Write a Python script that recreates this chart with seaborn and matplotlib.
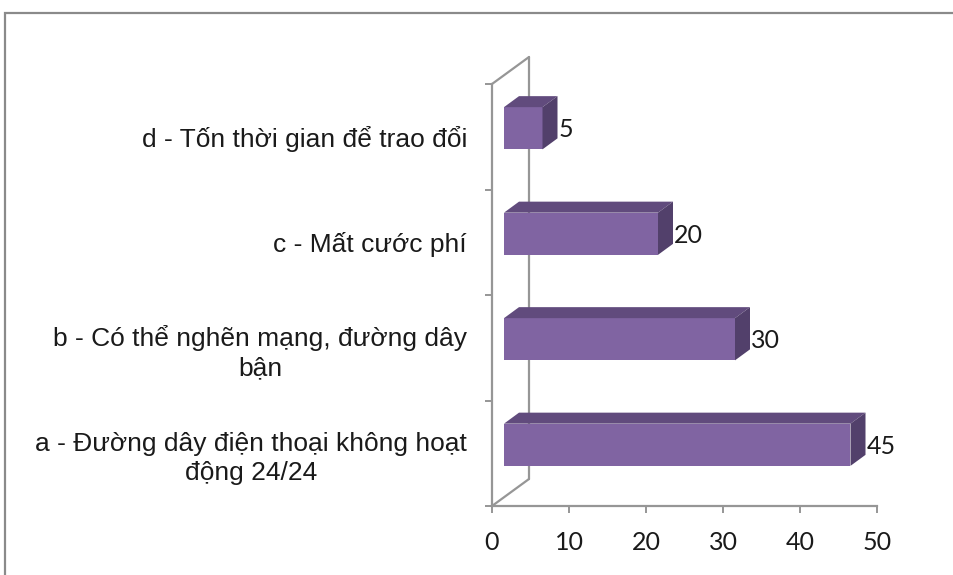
import numpy as np
import pandas as pd
import matplotlib
matplotlib.use("Agg")
import matplotlib.pyplot as plt
import seaborn as sns
from matplotlib.patches import Polygon, Rectangle
from matplotlib.lines import Line2D

# ---- data ----
categories = [
    "d - Tốn thời gian để trao đổi",
    "c - Mất cước phí",
    "b - Có thể nghẽn mạng, đường dây\nbận",
    "a - Đường dây điện thoại không hoạt\nđộng 24/24",
]
values = [5, 20, 30, 45]
x_ticks = [0, 10, 20, 30, 40, 50]

# ---- style ----
FRONT = "#8064A2"
TOP = "#614B7D"
SIDE = "#52406B"
WALL = "#969696"
LABEL_FONT = ["Liberation Sans", "DejaVu Sans"]
NUM_FONT = ["Lato", "DejaVu Sans"]

sns.set_theme(style="white")
W, H, DPI = 954, 575, 100
fig = plt.figure(figsize=(W / DPI, H / DPI), dpi=DPI)
ax = fig.add_axes([492 / W, (H - 506) / H, 385 / W, 422 / H])

df = pd.DataFrame({"cat": categories, "val": values})
sns.barplot(data=df, x="val", y="cat", orient="h", color=FRONT,
            saturation=1, width=0.4, ax=ax, zorder=3)
ax.set_xlim(0, 50)
ax.set_ylim(len(categories) - 0.5, -0.5)

# pixel -> data conversion for the oblique depth offsets
bbox = ax.get_window_extent()
px_x = 50 / bbox.width                       # data units per pixel (x)
px_y = len(categories) / bbox.height         # data units per pixel (y, inverted axis)

def shift(dx_px, dy_px):
    # dy_px positive = upward on screen
    return dx_px * px_x, -dy_px * px_y

front_dx, front_dy = shift(12, 8.5)
depth_dx, depth_dy = shift(15, 11)
wall_dx, wall_dy = shift(37, 27)

# back wall / floor outline
y_top, y_bot = -0.5, len(categories) - 0.5
wall_kw = dict(color=WALL, lw=1.6, clip_on=False, zorder=1)
ax.add_line(Line2D([0, wall_dx], [y_top, y_top + wall_dy], **wall_kw))
ax.add_line(Line2D([0, wall_dx], [y_bot, y_bot + wall_dy], **wall_kw))
ax.add_line(Line2D([wall_dx, wall_dx], [y_top + wall_dy, y_bot + wall_dy], **wall_kw))

# turn flat bars into oblique prisms
for p in ax.patches:
    x0, y0 = p.get_x(), p.get_y()
    w, h = p.get_width(), p.get_height()
    x0 += front_dx
    y0 += front_dy
    p.set_x(x0)
    p.set_y(y0)
    p.set_edgecolor("none")
    p.set_clip_on(False)
    y_up = y0              # upper edge on screen (inverted axis)
    y_dn = y0 + h
    x1 = x0 + w
    top = Polygon([(x0, y_up), (x1, y_up), (x1 + depth_dx, y_up + depth_dy),
                   (x0 + depth_dx, y_up + depth_dy)], closed=True,
                  facecolor=TOP, edgecolor="none", zorder=3, clip_on=False)
    side = Polygon([(x1, y_up), (x1 + depth_dx, y_up + depth_dy),
                    (x1 + depth_dx, y_dn + depth_dy), (x1, y_dn)], closed=True,
                   facecolor=SIDE, edgecolor="none", zorder=3, clip_on=False)
    ax.add_patch(top)
    ax.add_patch(side)

# value labels beside the bar ends
for i, v in enumerate(values):
    ax.annotate(str(v), xy=(v, i), xytext=((12 + 15 + 1) * 0.72, 7 * 0.72),
                textcoords="offset points", ha="left", va="center",
                fontsize=18, family=NUM_FONT, color="#1a1a1a", zorder=5)

# axes: front wall edge and floor edge
for s in ["top", "right"]:
    ax.spines[s].set_visible(False)
for s in ["left", "bottom"]:
    ax.spines[s].set_color(WALL)
    ax.spines[s].set_linewidth(1.6)

ax.set_xticks(x_ticks)
ax.set_xticklabels([str(t) for t in x_ticks], family=NUM_FONT, fontsize=18,
                   color="#1a1a1a")
ax.tick_params(axis="x", direction="out", length=5, width=1.4, color=WALL,
               pad=13, bottom=True)

ax.set_yticks(range(len(categories)))
ax.set_yticklabels(categories, family=LABEL_FONT, fontsize=19, color="#1a1a1a")
for t in ax.get_yticklabels():
    t.set_multialignment("center")
    t.set_linespacing(1.26)
ax.tick_params(axis="y", which="major", length=0, pad=18)
ax.set_yticks(np.arange(-0.5, len(categories), 1.0), minor=True)
ax.tick_params(axis="y", which="minor", direction="out", length=5, width=1.4,
               color=WALL, left=True)
ax.set_xlabel("")
ax.set_ylabel("")
ax.grid(False)
ax.set_facecolor("none")

# outer chart frame
fig.add_artist(Rectangle((5 / W, -0.1), 1.2, 1 - 13 / H + 0.1,
                         transform=fig.transFigure, fill=False,
                         edgecolor="#8a8a8a", lw=1.6))

fig.savefig("out.png", dpi=DPI)
